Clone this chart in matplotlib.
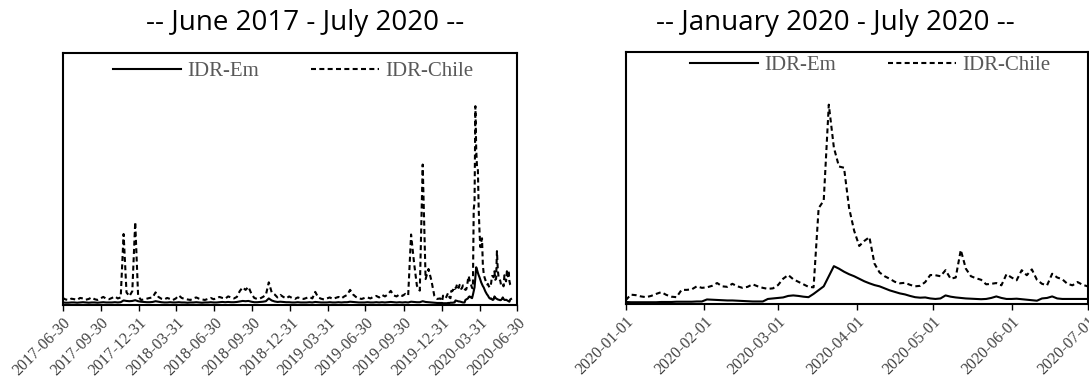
import pandas as pd
import matplotlib
matplotlib.use('Agg')
import matplotlib.pyplot as plt

plt.rcParams['font.family'] = 'Liberation Serif'

# weekly readings, 30 Jun 2017 - 27 Dec 2019
chile_weekly = [
    2.8, 2.2, 2.0, 2.5, 2.3, 2.0, 2.8, 2.6, 2.1, 2.4,
    3.0, 2.3, 2.0, 2.6, 3.2, 2.5, 2.3, 2.8, 3.4, 2.6,
    3.0, 28.2, 5.0, 3.5, 5.5, 33.0, 3.5, 2.0, 2.2, 2.5,
    2.8, 3.0, 5.0, 3.2, 2.5, 2.2, 2.8, 2.4, 2.0, 2.6,
    3.8, 2.8, 2.4, 2.2, 2.0, 2.6, 3.0, 2.5, 2.2, 2.0,
    2.4, 2.8, 2.3, 2.6, 3.2, 2.8, 2.5, 3.4, 3.0, 2.6,
    3.2, 5.5, 7.0, 6.0, 7.2, 4.5, 2.8, 2.4, 2.6, 3.2,
    4.0, 9.0, 5.0, 4.2, 3.0, 4.0, 3.2, 2.6, 3.4, 2.8,
    2.4, 3.0, 2.6, 2.4, 2.8, 3.2, 2.6, 5.2, 3.0, 2.5,
    2.2, 2.6, 3.0, 2.4, 2.8, 3.2, 2.6, 3.4, 4.0, 6.0,
    4.2, 3.2, 2.6, 2.4, 2.8, 3.0, 2.6, 3.2, 3.6, 3.0,
    4.0, 3.4, 4.2, 5.6, 3.8, 3.4, 4.2, 3.6, 4.4, 3.8,
    28.0, 17.0, 7.7, 5.7, 55.8, 10.3, 14.3, 9.7, 3.7, 2.4, 2.6,
]
em_weekly = [
    1.0, 0.9, 0.9, 1.0, 1.0, 0.9, 1.0, 1.1, 1.0, 0.9,
    1.0, 1.0, 0.9, 1.0, 1.1, 1.0, 1.0, 1.0, 1.1, 1.0,
    1.1, 1.8, 1.6, 1.5, 1.6, 1.9, 1.5, 1.3, 1.2, 1.1,
    1.1, 1.2, 1.5, 1.3, 1.1, 1.0, 1.0, 1.1, 1.0, 1.0,
    1.1, 1.0, 1.0, 0.9, 1.0, 1.0, 1.1, 1.0, 0.9, 1.0,
    1.0, 1.1, 1.0, 1.0, 1.1, 1.2, 1.1, 1.2, 1.1, 1.1,
    1.2, 1.4, 1.6, 1.5, 1.6, 1.3, 1.1, 1.1, 1.2, 1.3,
    1.5, 2.6, 1.8, 1.4, 1.2, 1.3, 1.2, 1.1, 1.1, 1.0,
    1.0, 1.1, 1.0, 1.0, 1.0, 1.1, 1.0, 1.2, 1.1, 1.0,
    1.0, 1.0, 1.1, 1.0, 1.0, 1.1, 1.0, 1.1, 1.1, 1.3,
    1.2, 1.1, 1.0, 1.0, 1.0, 1.1, 1.0, 1.0, 1.1, 1.0,
    1.1, 1.0, 1.1, 1.2, 1.1, 1.0, 1.1, 1.0, 1.1, 1.0,
    1.3, 1.2, 1.1, 1.1, 1.5, 1.2, 1.1, 1.0, 0.9, 0.8, 0.8,
]

# every second day, 1 Jan 2020 - 1 Jul 2020
chile_2020 = [
    1.5, 3.7, 3.5, 3.0, 2.7, 3.2, 4.0, 4.7, 3.6, 2.9,
    2.7, 5.6, 5.6, 5.8, 7.0, 6.4, 6.6, 7.2, 8.3, 7.0,
    6.8, 8.0, 7.0, 6.4, 6.8, 7.8, 7.0, 6.4, 6.0, 6.2,
    7.5, 10.0, 11.5, 9.8, 8.8, 7.8, 6.8, 6.6, 38.0, 41.0,
    79.0, 62.0, 54.5, 54.0, 38.0, 29.0, 23.0, 25.0, 26.5, 16.0,
    12.5, 11.0, 10.0, 8.8, 8.2, 8.4, 7.6, 7.0, 7.2, 8.7,
    11.5, 11.4, 11.0, 13.4, 10.0, 10.5, 21.4, 14.0, 11.0, 10.2,
    9.6, 7.8, 8.0, 8.3, 7.4, 11.8, 10.5, 9.4, 13.4, 11.4,
    13.7, 9.6, 8.0, 7.4, 12.0, 10.5, 9.8, 8.0, 7.4, 8.7,
    7.6, 7.0,
]
em_2020 = [
    0.8, 0.7, 0.7, 0.7, 0.7, 0.7, 0.7, 0.8, 0.8, 0.8,
    0.9, 0.9, 0.9, 0.9, 1.0, 1.0, 1.8, 1.7, 1.6, 1.5,
    1.4, 1.4, 1.3, 1.2, 1.1, 1.0, 1.0, 1.0, 2.0, 2.2,
    2.4, 2.6, 3.2, 3.4, 3.2, 2.9, 2.7, 4.0, 5.5, 7.0,
    11.0, 15.0, 14.0, 12.8, 11.8, 11.0, 10.0, 9.0, 8.2, 7.5,
    7.0, 6.2, 5.4, 4.8, 4.2, 3.8, 3.2, 2.7, 2.5, 2.6,
    2.2, 2.0, 2.2, 3.4, 2.9, 2.6, 2.4, 2.2, 2.1, 2.0,
    1.9, 2.0, 2.4, 3.0, 2.4, 2.0, 2.0, 2.1, 1.9, 1.7,
    1.5, 1.3, 2.2, 2.4, 3.0, 2.2, 2.0, 2.0, 2.0, 2.0,
    2.0, 2.0,
]

long_ticks = ['2017-06-30', '2017-09-30', '2017-12-31', '2018-03-31',
              '2018-06-30', '2018-09-30', '2018-12-31', '2019-03-31',
              '2019-06-30', '2019-09-30', '2019-12-31', '2020-03-31',
              '2020-06-30']
short_ticks = ['2020-01-01', '2020-02-01', '2020-03-01', '2020-04-01',
               '2020-05-01', '2020-06-01', '2020-07-01']

weekly_dates = pd.date_range('2017-06-30', periods=len(chile_weekly), freq='7D')
dates_2020 = pd.date_range('2020-01-01', periods=len(chile_2020), freq='2D')

df = pd.DataFrame({'em': em_weekly + em_2020,
                   'chile': chile_weekly + chile_2020},
                  index=weekly_dates.append(dates_2020))
long_run = df[df.index <= '2020-06-16']
recent = df[df.index >= '2020-01-01']

fig = plt.figure(figsize=(10.89, 3.79), dpi=100)
ax1 = fig.add_axes([0.0575, 0.1953, 0.4175, 0.664])
ax2 = fig.add_axes([0.5746, 0.1979, 0.4242, 0.6657])


def draw(ax, data, ticks, anchor):
    ax.plot(data.index, data['em'], color='black', lw=1.5, label='IDR-Em')
    ax.plot(data.index, data['chile'], color='black', lw=1.5,
            linestyle=(0, (2.4, 1.6)), label='IDR-Chile')
    tick_dates = pd.to_datetime(ticks)
    ax.set_xlim(tick_dates[0], tick_dates[-1])
    ax.set_ylim(0, 100)
    ax.set_xticks(tick_dates)
    ax.set_xticklabels(ticks, rotation=45, ha='right', rotation_mode='anchor',
                       fontsize=11.5, color='#404040')
    ax.tick_params(axis='x', direction='out', length=4, width=1, pad=3)
    ax.set_yticks([])
    for s in ax.spines.values():
        s.set_linewidth(1.5)
    leg = ax.legend(loc='upper center', bbox_to_anchor=anchor, ncol=2,
                    frameon=False, fontsize=15, handlelength=3.25,
                    handletextpad=0.3, columnspacing=2.5, borderaxespad=0,
                    borderpad=0.2)
    for t in leg.get_texts():
        t.set_color('#595959')


draw(ax1, long_run, long_ticks, (0.507, 0.985))
draw(ax2, recent, short_ticks, (0.529, 1.0))

fig.text(305 / 1089, 1 - 23 / 379, '-- June 2017 - July 2020 --',
         ha='center', va='center', family='Open Sans', fontsize=20)
fig.text(835 / 1089, 1 - 23 / 379, '-- January 2020 - July 2020 --',
         ha='center', va='center', family='Open Sans', fontsize=20)

fig.savefig('out.png', dpi=100)
